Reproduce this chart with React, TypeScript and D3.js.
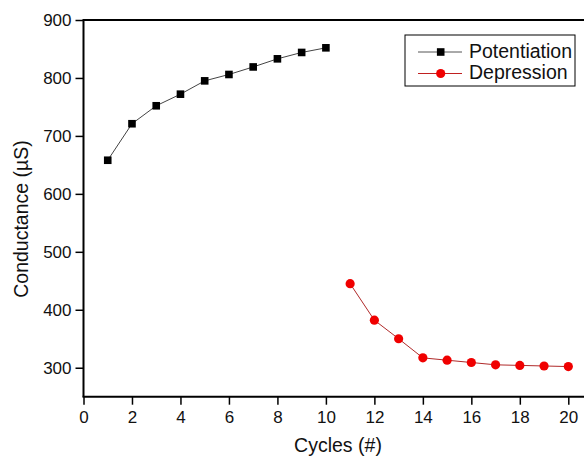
import React, { useEffect, useRef } from "react";
import * as d3 from "d3";

const potX = [1, 2, 3, 4, 5, 6, 7, 8, 9, 10];
const potY = [658, 721, 752, 772, 795, 806, 819, 833, 844, 852];
const depX = [11, 12, 13, 14, 15, 16, 17, 18, 19, 20];
const depY = [445, 382, 350, 317, 313, 309, 305, 304, 303, 302];
const xMajor = [0, 2, 4, 6, 8, 10, 12, 14, 16, 18, 20];
const xMinor = [1, 3, 5, 7, 9, 11, 13, 15, 17, 19];
const yMajor = [300, 400, 500, 600, 700, 800, 900];
const yMinor = [250, 350, 450, 550, 650, 750, 850];
const seriesNames = ["Potentiation", "Depression"];

export default function App() {
  const ref = useRef<SVGSVGElement>(null);
  useEffect(() => {
    const svg = d3.select(ref.current);
    svg.selectAll("*").remove();
    const font = "'Liberation Sans', Arial, sans-serif";
    const x = d3.scaleLinear().domain([0, 20]).range([83.5, 568.3]);
    const y = d3.scaleLinear().domain([250, 900]).range([396.7, 20]);

    // axes
    const gx = svg.append("g").attr("transform", `translate(0,${y(250)})`);
    gx.call(d3.axisBottom(x).tickValues(xMinor).tickSize(4).tickFormat(() => ""));
    gx.call(d3.axisBottom(x).tickValues(xMajor).tickSize(8).tickPadding(6).tickFormat(d3.format("d")));
    gx.select(".domain").remove();
    gx.selectAll("line").attr("stroke", "#000").attr("stroke-width", 1.5);
    gx.selectAll("text").attr("font-family", font).attr("font-size", 17).attr("fill", "#111");

    const gy = svg.append("g").attr("transform", `translate(${x(0)},0)`);
    gy.call(d3.axisLeft(y).tickValues(yMinor).tickSize(4).tickFormat(() => ""));
    gy.call(d3.axisLeft(y).tickValues(yMajor).tickSize(8).tickPadding(4).tickFormat(d3.format("d")));
    gy.select(".domain").remove();
    gy.selectAll("line").attr("stroke", "#000").attr("stroke-width", 1.5);
    gy.selectAll("text").attr("font-family", font).attr("font-size", 17).attr("fill", "#111");

    // frame
    svg.append("path")
      .attr("d", `M${x(0)},${y(250)}V${y(900)}H600`)
      .attr("fill", "none").attr("stroke", "#000").attr("stroke-width", 2);
    svg.append("line")
      .attr("x1", x(0) - 1).attr("x2", 600).attr("y1", y(250)).attr("y2", y(250))
      .attr("stroke", "#000").attr("stroke-width", 2);

    const line = d3.line<[number, number]>().x((d) => x(d[0])).y((d) => y(d[1]));
    const pot = potX.map((v, i) => [v, potY[i]] as [number, number]);
    const dep = depX.map((v, i) => [v, depY[i]] as [number, number]);

    svg.append("path").attr("d", line(pot)).attr("fill", "none").attr("stroke", "#444").attr("stroke-width", 1);
    svg.append("path").attr("d", line(dep)).attr("fill", "none").attr("stroke", "#b02a2a").attr("stroke-width", 1);

    const sq = 7.6;
    svg.selectAll("rect.pt").data(pot).enter().append("rect")
      .attr("x", (d) => x(d[0]) - sq / 2).attr("y", (d) => y(d[1]) - sq / 2)
      .attr("width", sq).attr("height", sq).attr("fill", "#000");
    svg.selectAll("circle.pt").data(dep).enter().append("circle")
      .attr("cx", (d) => x(d[0])).attr("cy", (d) => y(d[1])).attr("r", 4.6).attr("fill", "#f00000");

    // axis titles
    svg.append("text").attr("x", 338).attr("y", 452).attr("text-anchor", "middle")
      .attr("font-family", font).attr("font-size", 19.5).attr("fill", "#111").text("Cycles (#)");
    svg.append("text").attr("transform", `translate(28,219) rotate(-90)`).attr("text-anchor", "middle")
      .attr("font-family", font).attr("font-size", 19.5).attr("fill", "#111").text("Conductance (\u00b5S)");

    // legend
    const lg = svg.append("g");
    lg.append("rect").attr("x", 405).attr("y", 35).attr("width", 170).attr("height", 51)
      .attr("fill", "#fff").attr("stroke", "#000").attr("stroke-width", 1);
    const rows = [52, 73.5];
    lg.append("line").attr("x1", 418).attr("x2", 462).attr("y1", rows[0]).attr("y2", rows[0]).attr("stroke", "#555");
    lg.append("rect").attr("x", 440.7 - sq / 2).attr("y", rows[0] - sq / 2).attr("width", sq).attr("height", sq).attr("fill", "#000");
    lg.append("line").attr("x1", 418).attr("x2", 462).attr("y1", rows[1]).attr("y2", rows[1]).attr("stroke", "#c02020");
    lg.append("circle").attr("cx", 440.7).attr("cy", rows[1]).attr("r", 4.6).attr("fill", "#f00000");
    seriesNames.forEach((n, i) => {
      lg.append("text").attr("x", 469).attr("y", rows[i] + 5.8).attr("font-family", font)
        .attr("font-size", 19.5).attr("fill", "#111").text(n);
    });
  }, []);
  return (
    <svg ref={ref} width={584} height={457}
      style={{ position: "absolute", left: 0, top: 0, background: "#fff" }} />
  );
}
